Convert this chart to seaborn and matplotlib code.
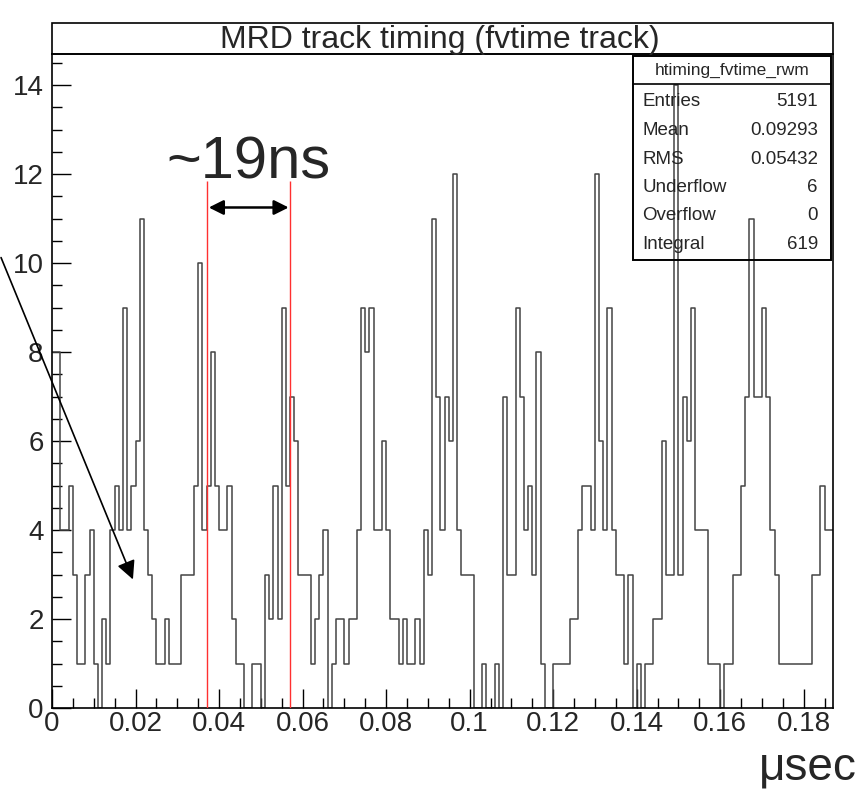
import numpy as np
import pandas as pd
import matplotlib
matplotlib.use("Agg")
import matplotlib.pyplot as plt
from matplotlib.patches import Rectangle, FancyArrowPatch
from matplotlib.ticker import MultipleLocator
import seaborn as sns

# bin contents of htiming_fvtime_rwm, 1 ns bins starting at 0 usec
counts = [
    8, 8, 4, 4, 5, 3, 1, 1, 3, 4, 1, 0, 2, 1, 4, 5, 4, 9, 4, 5,
    6, 11, 4, 3, 2, 1, 1, 2, 1, 1, 1, 3, 3, 3, 5, 10, 4, 5, 8, 5,
    4, 4, 5, 2, 1, 1, 0, 0, 1, 1, 0, 3, 2, 5, 2, 9, 5, 7, 6, 3,
    3, 3, 1, 2, 3, 4, 0, 1, 2, 2, 1, 2, 2, 4, 9, 8, 9, 4, 4, 6,
    4, 2, 2, 1, 2, 1, 1, 2, 1, 4, 3, 11, 7, 4, 7, 6, 12, 4, 3, 3,
    3, 0, 0, 1, 0, 0, 1, 0, 7, 3, 3, 9, 7, 4, 5, 3, 8, 1, 0, 0,
    1, 1, 1, 1, 2, 2, 4, 5, 5, 4, 12, 6, 4, 9, 4, 3, 3, 1, 3, 0,
    1, 0, 1, 1, 2, 2, 6, 3, 3, 14, 3, 7, 6, 9, 4, 4, 4, 1, 1, 1,
    0, 1, 1, 3, 3, 5, 7, 11, 7, 7, 9, 7, 4, 3, 1, 1, 1, 1, 1, 1,
    1, 1, 3, 3, 5, 4, 4,
]
bin_width = 0.001
x_max = 0.187
y_max = 14.7

xticks = [0, 0.02, 0.04, 0.06, 0.08, 0.1, 0.12, 0.14, 0.16, 0.18]
xtick_labels = ["0", "0.02", "0.04", "0.06", "0.08", "0.1", "0.12", "0.14", "0.16", "0.18"]
yticks = [0, 2, 4, 6, 8, 10, 12, 14]

title = "MRD track timing (fvtime track)"
stats_name = "htiming_fvtime_rwm"
stat_names = ["Entries", "Mean", "RMS", "Underflow", "Overflow", "Integral"]
stat_values = ["5191", "0.09293", "0.05432", "6", "0", "619"]

# red markers showing the ~19 ns spacing
red_lines = [0.0372, 0.0570]
red_top = 11.85
arrow_y = 11.25

W, H = 860, 795


def fx(px):
    return px / W


def fy(py):
    return 1 - py / H


def main():
    sns.set_theme(style="white")
    plt.rcParams["font.family"] = ["Liberation Sans", "DejaVu Sans"]

    centers = (np.arange(len(counts)) + 0.5) * bin_width
    df = pd.DataFrame({"t": centers, "n": counts})

    fig = plt.figure(figsize=(W / 100, H / 100), dpi=100)
    ax = fig.add_axes([fx(52), fy(708), fx(833) - fx(52), fy(54) - fy(708)])

    sns.histplot(data=df, x="t", weights="n", bins=len(counts),
                 binrange=(0, len(counts) * bin_width), element="step",
                 fill=False, color="#444444", linewidth=1.1, ax=ax)

    ax.set_xlim(0, x_max)
    ax.set_ylim(0, y_max)
    ax.set_xlabel("")
    ax.set_ylabel("")
    ax.set_xticks(xticks, labels=xtick_labels)
    ax.set_yticks(yticks)
    ax.xaxis.set_minor_locator(MultipleLocator(0.005))
    ax.yaxis.set_minor_locator(MultipleLocator(0.5))
    ax.tick_params(which="major", direction="in", length=14, width=1,
                   labelsize=20, color="black", pad=4)
    ax.tick_params(which="minor", direction="in", length=7, width=1, color="black")
    ax.tick_params(axis="y", which="both", left=True, right=False, pad=6)
    ax.tick_params(axis="x", which="both", bottom=True, top=False, pad=2)
    for sp in ax.spines.values():
        sp.set_color("black")
        sp.set_linewidth(1.2)

    # red lines and double arrow
    for xv in red_lines:
        ax.vlines(xv, 0, red_top, color="#ff3030", linewidth=1.0, zorder=3)
    ax.annotate("", xy=(red_lines[1], arrow_y), xytext=(red_lines[0], arrow_y),
                arrowprops=dict(arrowstyle="<|-|>", color="black", lw=1.8,
                                mutation_scale=22, shrinkA=1, shrinkB=1))
    fig.text(fx(248), fy(163), "~19ns", fontsize=43, ha="center", va="center")

    # title box
    fig.patches.append(Rectangle((fx(52), fy(54)), fx(833) - fx(52), fy(23) - fy(54),
                                 transform=fig.transFigure, fill=False,
                                 edgecolor="black", linewidth=1.2))
    fig.text(fx(440), fy(40), title, fontsize=23, ha="center", va="center")

    # stats box
    bx0, bx1, by0, by1, hy = 633, 831, 56, 260, 84
    fig.patches.append(Rectangle((fx(bx0), fy(by1)), fx(bx1) - fx(bx0), fy(by0) - fy(by1),
                                 transform=fig.transFigure, facecolor="none",
                                 edgecolor="black", linewidth=1.4, zorder=5))
    fig.add_artist(plt.Line2D([fx(bx0), fx(bx1)], [fy(hy), fy(hy)],
                              transform=fig.transFigure, color="black", linewidth=1.2))
    fig.text(fx((bx0 + bx1) / 2), fy(70), stats_name, fontsize=12.5, ha="center", va="center")
    for i, (name, val) in enumerate(zip(stat_names, stat_values)):
        yy = fy(102 + i * 28.5)
        fig.text(fx(642), yy, name, fontsize=13.5, ha="left", va="center")
        fig.text(fx(818), yy, val, fontsize=13.5, ha="right", va="center")

    # long pointer arrow from the left
    fig.add_artist(FancyArrowPatch(
        (fx(0), fy(255)), (fx(134), fy(582)), transform=fig.transFigure,
        arrowstyle="-|>", mutation_scale=28, color="black", linewidth=1.2))

    fig.text(fx(808), fy(768), "\u03bcsec", fontsize=33, ha="center", va="center")

    fig.savefig("out.png", dpi=100)
    plt.close(fig)


if __name__ == "__main__":
    main()
